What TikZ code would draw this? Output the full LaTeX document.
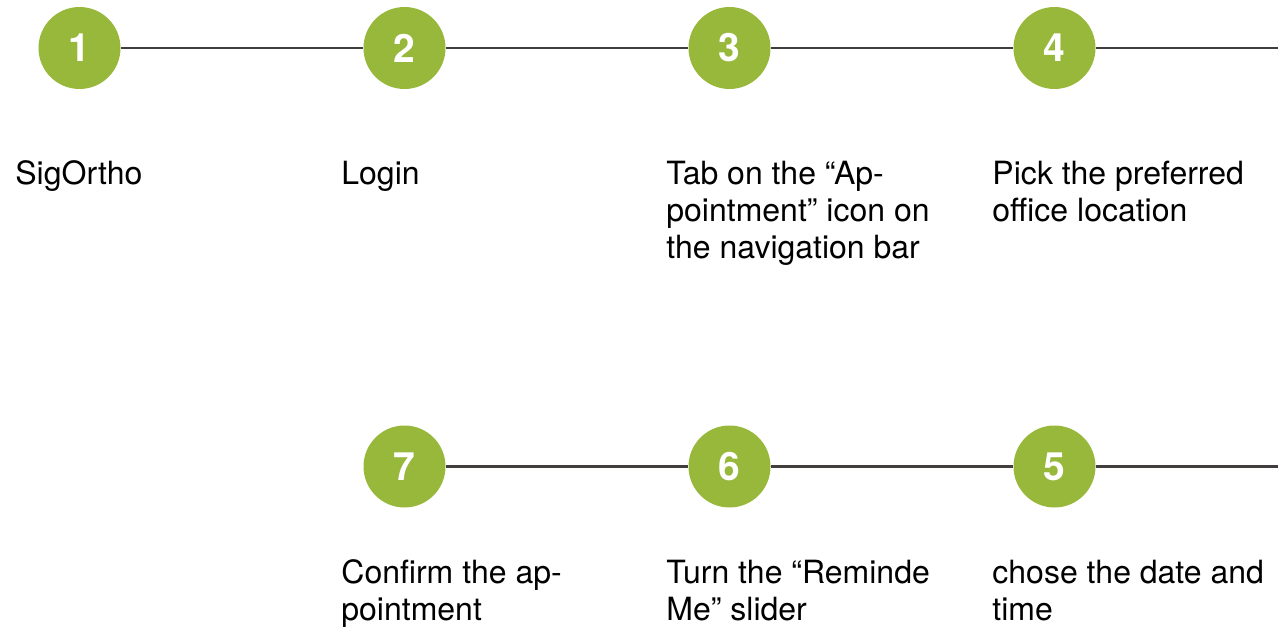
\documentclass[tikz,border=0pt]{standalone}
\usepackage{fontspec}
\setmainfont{TeX Gyre Heros}
\usepackage{tikz}
\usetikzlibrary{positioning}
\definecolor{leafgreen}{RGB}{152,184,60}
\definecolor{linegray}{RGB}{66,62,62}
\tikzset{
  stepdot/.style={circle, fill=leafgreen, minimum size=41pt, inner sep=0pt, text=white, font=\fontsize{19.5}{19.5}\selectfont\bfseries},
  steptext/.style={anchor=base west, inner sep=0pt, align=left, font=\fontsize{16}{18.5}\selectfont},
  link/.style={draw=linegray, line width=1.4pt}
}

\begin{document}
\begin{tikzpicture}[x=0.5pt, y=-0.5pt]
   \useasboundingbox (0, 0) rectangle (1278, 631);

   % top row
   \foreach \i/\x in {1/79.5, 2/404.5, 3/729.5, 4/1054.5}{
       \node[stepdot] (s\i) at (\x, 48) {\i};
   }
   % bottom row
   \foreach \i/\x in {7/404.5, 6/729.5, 5/1054.5}{
       \node[stepdot] (s\i) at (\x, 466.5) {\i};
   }
   \coordinate (topend) at (1278, 48);
   \coordinate (botend) at (1278, 466.5);

   \draw[link] (s1) -- (s2);
   \draw[link] (s2) -- (s3);
   \draw[link] (s3) -- (s4);
   \draw[link] (s4) -- (topend);
   \draw[link] (s7) -- (s6);
   \draw[link] (s6) -- (s5);
   \draw[link] (s5) -- (botend);

   % captions (anchored on the baseline of the last line)
   \node[steptext] (t1) at (15, 184) {SigOrtho};
   \node[steptext] (t2) at (341, 184) {Login};
   \node[steptext] (t3) at (666, 258) {Tab on the “Ap-\\pointment” icon on\\the navigation bar};
   \node[steptext] (t4) at (992, 221) {Pick the preferred\\office location};
   \node[steptext] (t7) at (341, 620) {Confirm the ap-\\pointment};
   \node[steptext] (t6) at (666, 620) {Turn the “Reminde\\Me” slider};
   \node[steptext] (t5) at (992, 620) {chose the date and\\time};
\end{tikzpicture}
\end{document}
